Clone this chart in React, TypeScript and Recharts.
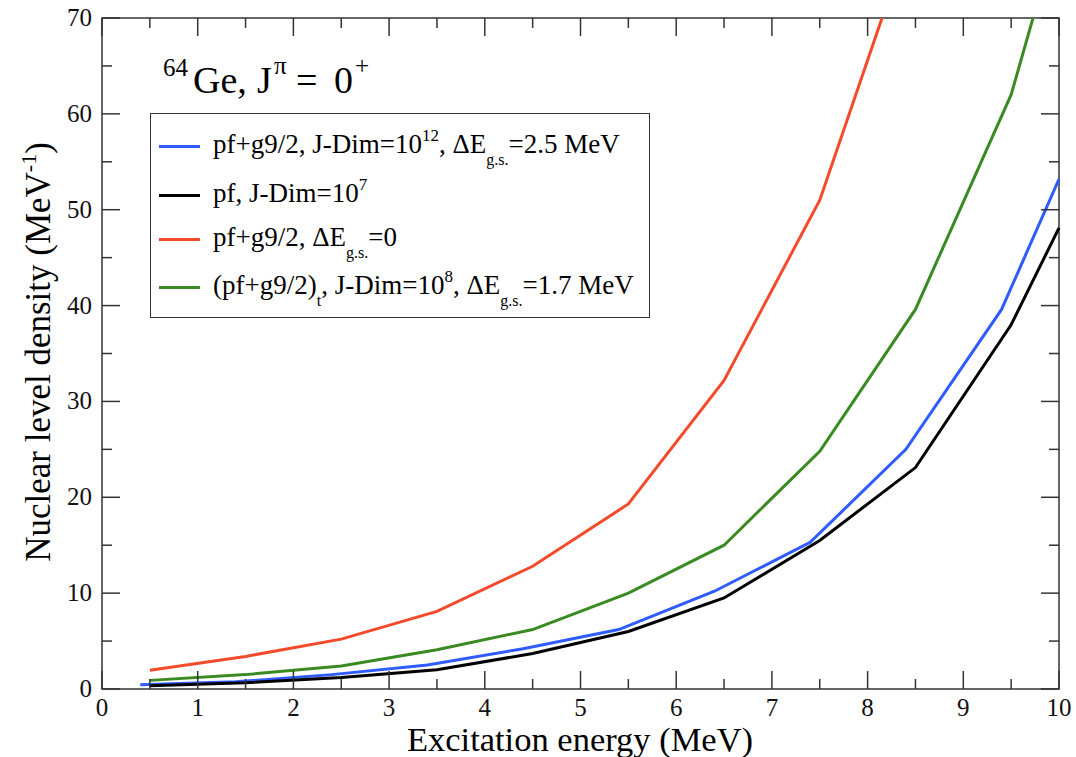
import { LineChart, Line, XAxis, YAxis, Legend, ReferenceArea } from 'recharts';

// excitation energy (MeV) and level density (MeV^-1)
const blueEnergy = [0.4, 1.4, 2.4, 3.4, 4.4, 5.4, 6.4, 7.4, 8.4, 9.4, 10];
const blueDensity = [0.45, 0.75, 1.5, 2.5, 4.2, 6.2, 10.2, 15.3, 25.0, 39.6, 53.2];

const blackEnergy = [0.5, 1.5, 2.5, 3.5, 4.5, 5.5, 6.5, 7.5, 8.5, 9.5, 10];
const blackDensity = [0.35, 0.65, 1.2, 2.0, 3.7, 6.0, 9.5, 15.5, 23.1, 38.0, 48.1];

const redEnergy = [0.5, 1.5, 2.5, 3.5, 4.5, 5.5, 6.5, 7.5, 8.5];
const redDensity = [1.95, 3.4, 5.2, 8.1, 12.8, 19.3, 32.2, 51.0, 80.2];

const greenEnergy = [0.5, 1.5, 2.5, 3.5, 4.5, 5.5, 6.5, 7.5, 8.5, 9.5, 10];
const greenDensity = [0.9, 1.5, 2.4, 4.1, 6.2, 10.0, 15.0, 24.8, 39.6, 62.0, 79.5];

const xTicks = [0, 0.5, 1, 1.5, 2, 2.5, 3, 3.5, 4, 4.5, 5, 5.5, 6, 6.5, 7, 7.5, 8, 8.5, 9, 9.5, 10];
const yTicks = [0, 5, 10, 15, 20, 25, 30, 35, 40, 45, 50, 55, 60, 65, 70];

const legendOrder = ['blue', 'black', 'red', 'green'];

const toPoints = (es: number[], ds: number[]) => es.map((e, i) => ({ e, rho: ds[i] }));

const blueData = toPoints(blueEnergy, blueDensity);
const blackData = toPoints(blackEnergy, blackDensity);
const redData = toPoints(redEnergy, redDensity);
const greenData = toPoints(greenEnergy, greenDensity);

const LEFT = 102;
const TOP = 18;
const RIGHT = 1059;
const BOTTOM = 689;
const FRAME = '#333';
const SERIF = '"Liberation Serif", "Times New Roman", serif';

const sup = { fontSize: 17, position: 'relative' as const, top: -12 };
const sub = { fontSize: 16, position: 'relative' as const, top: 12 };

const legendLabels: Record<string, React.ReactNode> = {
  blue: (
    <>pf+g9/2, J-Dim=10<span style={sup}>12</span>, ΔE<span style={sub}>g.s.</span>=2.5 MeV</>
  ),
  black: (
    <>pf, J-Dim=10<span style={sup}>7</span></>
  ),
  red: (
    <>pf+g9/2, ΔE<span style={sub}>g.s.</span>=0</>
  ),
  green: (
    <>(pf+g9/2)<span style={sub}>t</span>, J-Dim=10<span style={sup}>8</span>, ΔE<span style={sub}>g.s.</span>=1.7 MeV</>
  ),
};
const legendRowY = [32, 81, 125, 173];

function LegendBox(props: any) {
  const payload = props.payload || [];
  return (
    <div
      style={{
        position: 'relative',
        width: 500,
        height: 205,
        border: '1.5px solid #333',
        background: '#fff',
        boxSizing: 'border-box',
        fontFamily: SERIF,
        fontSize: 27,
        color: '#000',
      }}
    >
      {legendOrder.map((key, i) => {
        const p = payload.find((it: any) => it.value === key);
        if (!p) return null;
        return (
          <div
            key={key}
            style={{ position: 'absolute', left: 8, top: legendRowY[i] - 16, height: 32, lineHeight: '32px', display: 'flex', alignItems: 'center', whiteSpace: 'nowrap' }}
          >
            <span style={{ display: 'inline-block', width: 41, height: 3, background: p.color, marginRight: 13 }} />
            <span>{legendLabels[key]}</span>
          </div>
        );
      })}
    </div>
  );
}

function XTick(props: any) {
  const { x, payload } = props;
  const major = Number.isInteger(payload.value);
  const len = major ? 18 : 10;
  return (
    <g>
      <line x1={x} x2={x} y1={BOTTOM} y2={BOTTOM - len} stroke={FRAME} strokeWidth={1.5} />
      <line x1={x} x2={x} y1={TOP} y2={TOP + len} stroke={FRAME} strokeWidth={1.5} />
      {major && (
        <text x={x} y={BOTTOM + 27} textAnchor="middle" fontFamily={SERIF} fontSize={25} fill="#111">
          {payload.value}
        </text>
      )}
    </g>
  );
}

function YTick(props: any) {
  const { y, payload } = props;
  const major = payload.value % 10 === 0;
  const len = major ? 18 : 10;
  return (
    <g>
      <line x1={LEFT} x2={LEFT + len} y1={y} y2={y} stroke={FRAME} strokeWidth={1.5} />
      <line x1={RIGHT} x2={RIGHT - len} y1={y} y2={y} stroke={FRAME} strokeWidth={1.5} />
      {major && (
        <text x={LEFT - 10} y={y + 8} textAnchor="end" fontFamily={SERIF} fontSize={25} fill="#111">
          {payload.value}
        </text>
      )}
    </g>
  );
}

const xTitle = () => (
  <text x={580} y={751} textAnchor="middle" fontFamily={SERIF} fontSize={34.5} fill="#000">
    Excitation energy (MeV)
  </text>
);

const yTitle = () => (
  <text
    x={0}
    y={0}
    transform="translate(50, 352) rotate(-90)"
    textAnchor="middle"
    fontFamily={SERIF}
    fontSize={35}
    fill="#000"
  >
    Nuclear level density (MeV<tspan dy={-14} fontSize={22}>-1</tspan>
    <tspan dy={14}>)</tspan>
  </text>
);

export default function App() {
  return (
    <div style={{ position: 'absolute', left: 0, top: 0, width: 1076, height: 757, background: '#fff' }}>
      <LineChart width={1076} height={757} margin={{ top: TOP, left: 0, right: 1076 - RIGHT, bottom: 0 }}>
        <XAxis
          dataKey="e"
          type="number"
          domain={[0, 10]}
          ticks={xTicks}
          interval={0}
          height={757 - BOTTOM}
          axisLine={false}
          tickLine={false}
          tick={<XTick />}
          label={xTitle}
        />
        <YAxis
          type="number"
          domain={[0, 70]}
          ticks={yTicks}
          interval={0}
          width={LEFT}
          allowDataOverflow
          axisLine={false}
          tickLine={false}
          tick={<YTick />}
          label={yTitle}
        />
        <ReferenceArea x1={0} x2={10} y1={0} y2={70} fill="none" stroke={FRAME} strokeWidth={1.5} />
        <Line data={blueData} dataKey="rho" name="blue" stroke="#2f5cff" strokeWidth={3} dot={false} isAnimationActive={false} />
        <Line data={blackData} dataKey="rho" name="black" stroke="#000" strokeWidth={3} dot={false} isAnimationActive={false} />
        <Line data={redData} dataKey="rho" name="red" stroke="#f44a2c" strokeWidth={3} dot={false} isAnimationActive={false} />
        <Line data={greenData} dataKey="rho" name="green" stroke="#3a8a22" strokeWidth={3} dot={false} isAnimationActive={false} />
        <Legend
          layout="vertical"
          align="center"
          verticalAlign="middle"
          content={<LegendBox />}
          wrapperStyle={{ position: 'absolute', left: 150, top: 113, width: 500, height: 205 }}
        />
      </LineChart>
      <svg width={400} height={110} style={{ position: 'absolute', left: 0, top: 0 }}>
        <g fontFamily={SERIF} fill="#000">
          <text x={163} y={76} fontSize={25}>64</text>
          <text x={193} y={93} fontSize={38}>Ge,</text>
          <text x={257} y={93} fontSize={38}>J</text>
          <text x={274} y={74} fontSize={25}>π</text>
          <text x={296} y={93} fontSize={38}>=</text>
          <text x={334} y={93} fontSize={38}>0</text>
          <text x={355} y={74} fontSize={25}>+</text>
        </g>
      </svg>
    </div>
  );
}
